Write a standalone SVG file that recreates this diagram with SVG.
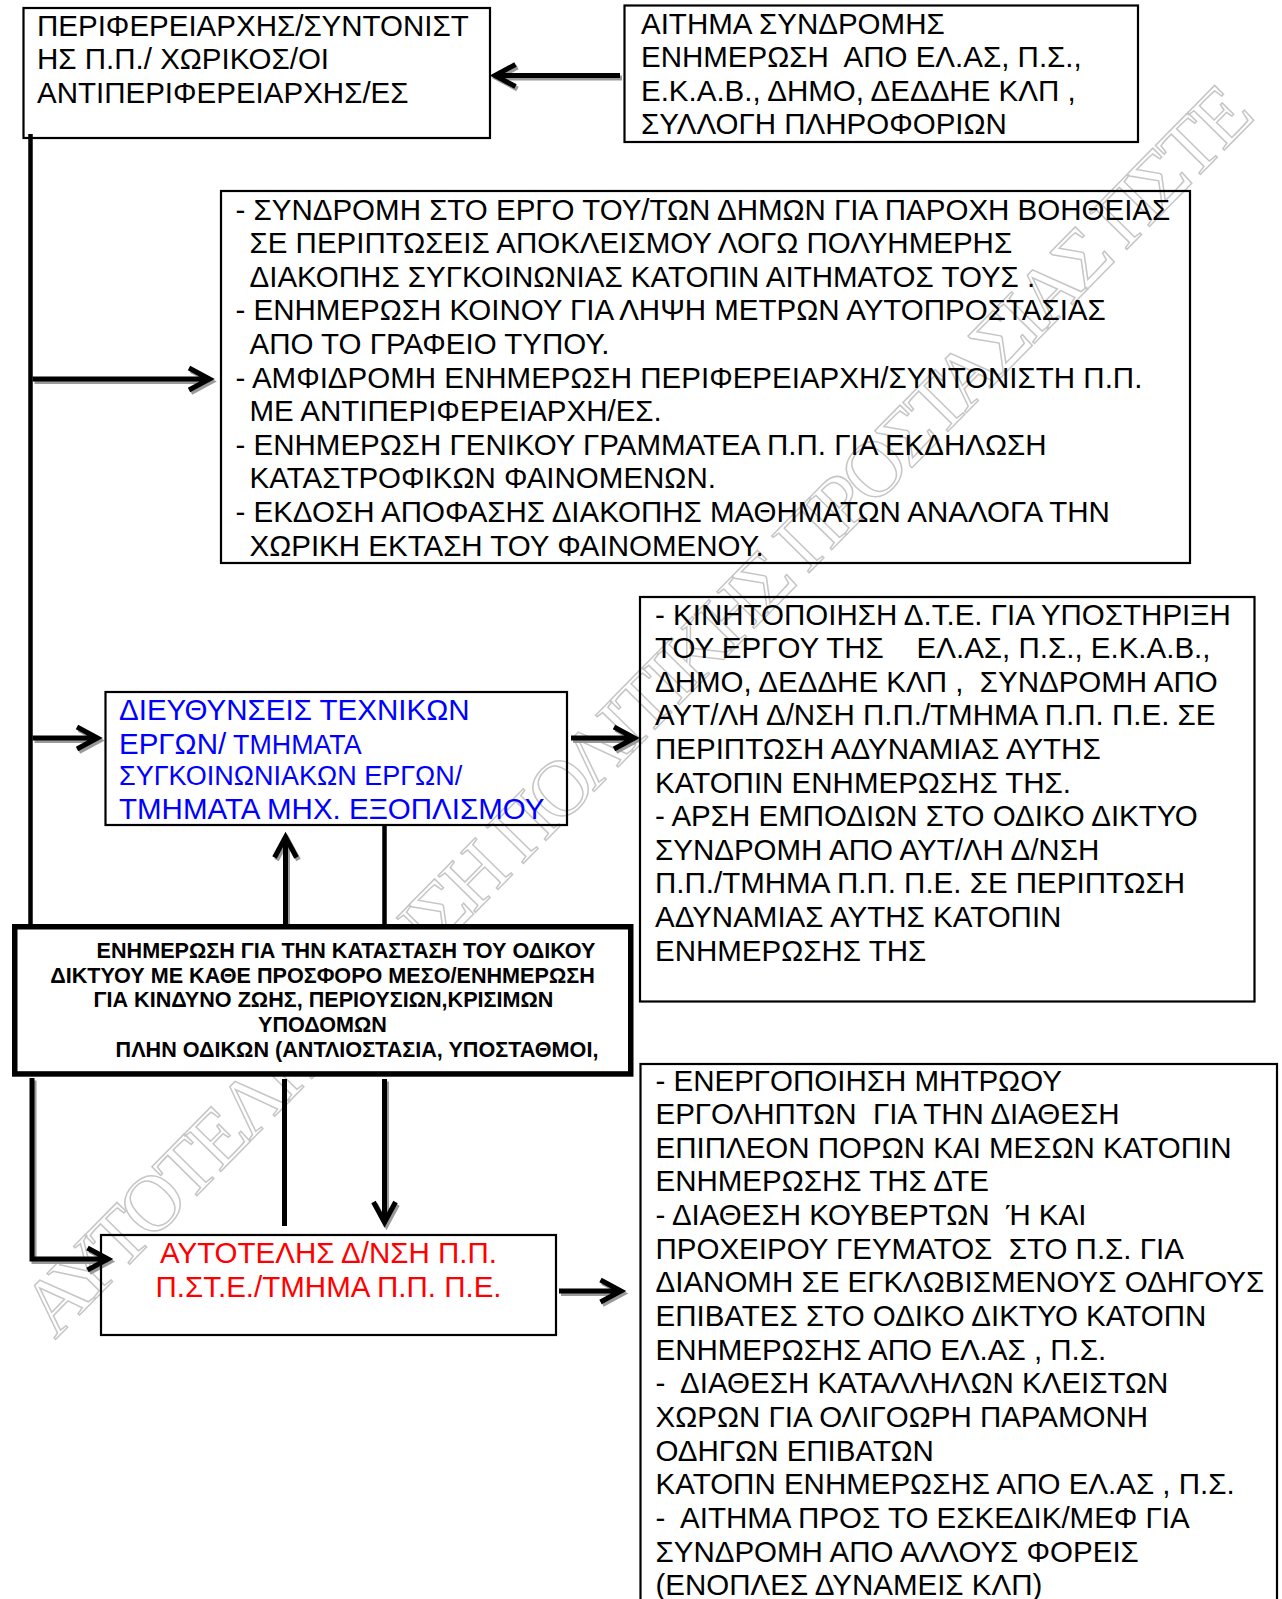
<svg xmlns="http://www.w3.org/2000/svg" xmlns:xlink="http://www.w3.org/1999/xlink" width="1282" height="1599" viewBox="0 0 1282 1599">
<style>
.bx{fill:none;stroke:#000;stroke-width:2.2}
.bxw{fill:#fff;stroke:#000;stroke-width:5.5}
.t{font-family:"Liberation Sans",Arial,sans-serif;font-size:29.5px;fill:#000}
.tb{font-family:"Liberation Sans",Arial,sans-serif;font-size:21.6px;font-weight:bold;fill:#000;text-anchor:middle}
.blue{fill:#0000ff}
.red{fill:#ff0000}
.arrow{fill:none;stroke:#000;stroke-width:5;stroke-linejoin:miter}
.shadow{fill:none;stroke:#9a9a9a;stroke-width:5;stroke-linejoin:miter}
.line{fill:none;stroke:#000}
.wm{font-family:"Liberation Serif","Times New Roman",serif;font-size:80px;fill:none;stroke:#c6c6c6;stroke-width:1.5}
</style>
<defs>
<path id="a1" d="M620 75.5 H495 M515.5 64.5 L495 75.5 L515.5 86.5"/>
<path id="a2" d="M32.5 379 H209.5 M189 368 L209.5 379 L189 390"/>
<path id="a3" d="M32.5 738 H97.5 M77 727 L97.5 738 L77 749"/>
<path id="a4" d="M571 738 H634.5 M614 727 L634.5 738 L614 749"/>
<path id="a5" d="M285.5 924 V837 M274.5 857.5 L285.5 837 L296.5 857.5"/>
<path id="a8" d="M384.5 1079 V1222.5 M373.5 1202 L384.5 1222.5 L395.5 1202"/>
<path id="a9" d="M32 1078 V1259 H108 M87.5 1248 L108 1259 L87.5 1270"/>
<path id="a10" d="M559 1291 H621 M600.5 1280 L621 1291 L600.5 1302"/>
</defs>

<g id="watermark">
<text class="wm" transform="translate(55 1340) rotate(-45.5)" x="0" y="0" textLength="1715" lengthAdjust="spacing">ΑΥΤΟΤΕΛΗΣ Δ/ΝΣΗ ΠΟΛΙΤΙΚΗΣ ΠΡΟΣΤΑΣΙΑΣ ΠΣΤΕ</text>
</g>

<g id="connectors">
<path class="line" stroke-width="4.5" d="M30.5 134 V928"/>
<path class="line" stroke-width="4.5" d="M384.5 825 V925"/>
<path class="line" stroke-width="5" d="M284.5 1079 V1226"/>
<g class="shadow" transform="translate(2 2.5)">
<use xlink:href="#a1"/><use xlink:href="#a2"/><use xlink:href="#a3"/><use xlink:href="#a4"/>
<use xlink:href="#a5"/><use xlink:href="#a8"/><use xlink:href="#a9"/><use xlink:href="#a10"/>
</g>
<g class="arrow">
<use xlink:href="#a1"/><use xlink:href="#a2"/><use xlink:href="#a3"/><use xlink:href="#a4"/>
<use xlink:href="#a5"/><use xlink:href="#a8"/><use xlink:href="#a9"/><use xlink:href="#a10"/>
</g>
</g>

<g id="node-perifereiarxis">
<rect class="bx" x="23.5" y="8" width="466.5" height="130"/>
<text class="t" x="37" y="35.5">ΠΕΡΙΦΕΡΕΙΑΡΧΗΣ/ΣΥΝΤΟΝΙΣΤ</text>
<text class="t" x="37" y="69">ΗΣ Π.Π./ ΧΩΡΙΚΟΣ/ΟΙ</text>
<text class="t" x="37" y="102.5">ΑΝΤΙΠΕΡΙΦΕΡΕΙΑΡΧΗΣ/ΕΣ</text>
</g>

<g id="node-aitima">
<rect class="bx" x="624.5" y="5.5" width="513.5" height="136.5"/>
<text class="t" x="641" y="33.5">ΑΙΤΗΜΑ ΣΥΝΔΡΟΜΗΣ</text>
<text class="t" x="641" y="67">ΕΝΗΜΕΡΩΣΗ&#160; ΑΠΟ ΕΛ.ΑΣ, Π.Σ.,</text>
<text class="t" x="641" y="100.5">Ε.Κ.Α.Β., ΔΗΜΟ, ΔΕΔΔΗΕ ΚΛΠ ,</text>
<text class="t" x="641" y="134">ΣΥΛΛΟΓΗ ΠΛΗΡΟΦΟΡΙΩΝ</text>
</g>

<g id="node-energeies">
<rect class="bx" x="221" y="191" width="969" height="372"/>
<text class="t" x="235.5" y="219.5">- ΣΥΝΔΡΟΜΗ ΣΤΟ ΕΡΓΟ ΤΟΥ/ΤΩΝ ΔΗΜΩΝ ΓΙΑ ΠΑΡΟΧΗ ΒΟΗΘΕΙΑΣ</text>
<text class="t" x="249.5" y="253.1">ΣΕ ΠΕΡΙΠΤΩΣΕΙΣ ΑΠΟΚΛΕΙΣΜΟΥ ΛΟΓΩ ΠΟΛΥΗΜΕΡΗΣ</text>
<text class="t" x="249.5" y="286.7">ΔΙΑΚΟΠΗΣ ΣΥΓΚΟΙΝΩΝΙΑΣ ΚΑΤΟΠΙΝ ΑΙΤΗΜΑΤΟΣ ΤΟΥΣ .</text>
<text class="t" x="235.5" y="320.3">- ΕΝΗΜΕΡΩΣΗ ΚΟΙΝΟΥ ΓΙΑ ΛΗΨΗ ΜΕΤΡΩΝ ΑΥΤΟΠΡΟΣΤΑΣΙΑΣ</text>
<text class="t" x="249.5" y="353.9">ΑΠΟ ΤΟ ΓΡΑΦΕΙΟ ΤΥΠΟΥ.</text>
<text class="t" x="235.5" y="387.5">- ΑΜΦΙΔΡΟΜΗ ΕΝΗΜΕΡΩΣΗ ΠΕΡΙΦΕΡΕΙΑΡΧΗ/ΣΥΝΤΟΝΙΣΤΗ Π.Π.</text>
<text class="t" x="249.5" y="421.1">ΜΕ ΑΝΤΙΠΕΡΙΦΕΡΕΙΑΡΧΗ/ΕΣ.</text>
<text class="t" x="235.5" y="454.7">- ΕΝΗΜΕΡΩΣΗ ΓΕΝΙΚΟΥ ΓΡΑΜΜΑΤΕΑ Π.Π. ΓΙΑ ΕΚΔΗΛΩΣΗ</text>
<text class="t" x="249.5" y="488.3">ΚΑΤΑΣΤΡΟΦΙΚΩΝ ΦΑΙΝΟΜΕΝΩΝ.</text>
<text class="t" x="235.5" y="521.9">- ΕΚΔΟΣΗ ΑΠΟΦΑΣΗΣ ΔΙΑΚΟΠΗΣ ΜΑΘΗΜΑΤΩΝ ΑΝΑΛΟΓΑ ΤΗΝ</text>
<text class="t" x="249.5" y="555.5">ΧΩΡΙΚΗ ΕΚΤΑΣΗ ΤΟΥ ΦΑΙΝΟΜΕΝΟΥ.</text>
</g>

<g id="node-dte">
<rect class="bx" x="105.5" y="692" width="461.5" height="133"/>
<text class="t blue" x="119" y="720">ΔΙΕΥΘΥΝΣΕΙΣ ΤΕΧΝΙΚΩΝ</text>
<text class="t blue" x="119" y="753.5">ΕΡΓΩΝ/<tspan style="font-size:26.8px"> ΤΜΗΜΑΤΑ</tspan></text>
<text class="t blue" x="119" y="785" style="font-size:27px">ΣΥΓΚΟΙΝΩΝΙΑΚΩΝ ΕΡΓΩΝ/</text>
<text class="t blue" x="119" y="818.5">ΤΜΗΜΑΤΑ ΜΗΧ. ΕΞΟΠΛΙΣΜΟΥ</text>
</g>

<g id="node-kinitopoiisi">
<rect class="bx" x="640" y="597" width="614.5" height="404.5"/>
<text class="t" x="655" y="624.5">- ΚΙΝΗΤΟΠΟΙΗΣΗ Δ.Τ.Ε. ΓΙΑ ΥΠΟΣΤΗΡΙΞΗ</text>
<text class="t" x="655" y="658.1">ΤΟΥ ΕΡΓΟΥ ΤΗΣ&#160;&#160;&#160; ΕΛ.ΑΣ, Π.Σ., Ε.Κ.Α.Β.,</text>
<text class="t" x="655" y="691.7">ΔΗΜΟ, ΔΕΔΔΗΕ ΚΛΠ ,&#160; ΣΥΝΔΡΟΜΗ ΑΠΟ</text>
<text class="t" x="655" y="725.3">ΑΥΤ/ΛΗ Δ/ΝΣΗ Π.Π./ΤΜΗΜΑ Π.Π. Π.Ε. ΣΕ</text>
<text class="t" x="655" y="758.9">ΠΕΡΙΠΤΩΣΗ ΑΔΥΝΑΜΙΑΣ ΑΥΤΗΣ</text>
<text class="t" x="655" y="792.5">ΚΑΤΟΠΙΝ ΕΝΗΜΕΡΩΣΗΣ ΤΗΣ.</text>
<text class="t" x="655" y="826.1">- ΑΡΣΗ ΕΜΠΟΔΙΩΝ ΣΤΟ ΟΔΙΚΟ ΔΙΚΤΥΟ</text>
<text class="t" x="655" y="859.7">ΣΥΝΔΡΟΜΗ ΑΠΟ ΑΥΤ/ΛΗ Δ/ΝΣΗ</text>
<text class="t" x="655" y="893.3">Π.Π./ΤΜΗΜΑ Π.Π. Π.Ε. ΣΕ ΠΕΡΙΠΤΩΣΗ</text>
<text class="t" x="655" y="926.9">ΑΔΥΝΑΜΙΑΣ ΑΥΤΗΣ ΚΑΤΟΠΙΝ</text>
<text class="t" x="655" y="960.5">ΕΝΗΜΕΡΩΣΗΣ ΤΗΣ</text>
</g>

<g id="node-enimerosi">
<rect class="bxw" x="14.75" y="926.75" width="616" height="147.2"/>
<text class="tb" x="346" y="958">ΕΝΗΜΕΡΩΣΗ ΓΙΑ ΤΗΝ ΚΑΤΑΣΤΑΣΗ ΤΟΥ ΟΔΙΚΟΥ</text>
<text class="tb" x="322.5" y="982.5">ΔΙΚΤΥΟΥ ΜΕ ΚΑΘΕ ΠΡΟΣΦΟΡΟ ΜΕΣΟ/ΕΝΗΜΕΡΩΣΗ</text>
<text class="tb" x="323.5" y="1007">ΓΙΑ ΚΙΝΔΥΝΟ ΖΩΗΣ, ΠΕΡΙΟΥΣΙΩΝ,ΚΡΙΣΙΜΩΝ</text>
<text class="tb" x="322.5" y="1031.5">ΥΠΟΔΟΜΩΝ</text>
<text class="tb" x="357" y="1056.5">ΠΛΗΝ ΟΔΙΚΩΝ (ΑΝΤΛΙΟΣΤΑΣΙΑ, ΥΠΟΣΤΑΘΜΟΙ,</text>
</g>

<g id="node-autoteli">
<rect class="bx" x="101" y="1235" width="455" height="100"/>
<text class="t red" x="328.5" y="1262.5" text-anchor="middle">ΑΥΤΟΤΕΛΗΣ Δ/ΝΣΗ Π.Π.</text>
<text class="t red" x="328.5" y="1296.5" text-anchor="middle">Π.ΣΤ.Ε./ΤΜΗΜΑ Π.Π. Π.Ε.</text>
</g>

<g id="node-energopoiisi">
<rect class="bx" x="640.5" y="1064" width="636.5" height="560"/>
<text class="t" x="655.5" y="1090.5">- ΕΝΕΡΓΟΠΟΙΗΣΗ ΜΗΤΡΩΟΥ</text>
<text class="t" x="655.5" y="1124.15">ΕΡΓΟΛΗΠΤΩΝ&#160; ΓΙΑ ΤΗΝ ΔΙΑΘΕΣΗ</text>
<text class="t" x="655.5" y="1157.8">ΕΠΙΠΛΕΟΝ ΠΟΡΩΝ ΚΑΙ ΜΕΣΩΝ ΚΑΤΟΠΙΝ</text>
<text class="t" x="655.5" y="1191.45">ΕΝΗΜΕΡΩΣΗΣ ΤΗΣ ΔΤΕ</text>
<text class="t" x="655.5" y="1225.1">- ΔΙΑΘΕΣΗ ΚΟΥΒΕΡΤΩΝ&#160; Ή ΚΑΙ</text>
<text class="t" x="655.5" y="1258.75">ΠΡΟΧΕΙΡΟΥ ΓΕΥΜΑΤΟΣ&#160; ΣΤΟ Π.Σ. ΓΙΑ</text>
<text class="t" x="655.5" y="1292.4">ΔΙΑΝΟΜΗ ΣΕ ΕΓΚΛΩΒΙΣΜΕΝΟΥΣ ΟΔΗΓΟΥΣ</text>
<text class="t" x="655.5" y="1326.05">ΕΠΙΒΑΤΕΣ ΣΤΟ ΟΔΙΚΟ ΔΙΚΤΥΟ ΚΑΤΟΠΝ</text>
<text class="t" x="655.5" y="1359.7">ΕΝΗΜΕΡΩΣΗΣ ΑΠΟ ΕΛ.ΑΣ , Π.Σ.</text>
<text class="t" x="655.5" y="1393.35">-&#160; ΔΙΑΘΕΣΗ ΚΑΤΑΛΛΗΛΩΝ ΚΛΕΙΣΤΩΝ</text>
<text class="t" x="655.5" y="1427">ΧΩΡΩΝ ΓΙΑ ΟΛΙΓΟΩΡΗ ΠΑΡΑΜΟΝΗ</text>
<text class="t" x="655.5" y="1460.65">ΟΔΗΓΩΝ ΕΠΙΒΑΤΩΝ</text>
<text class="t" x="655.5" y="1494.3">ΚΑΤΟΠΝ ΕΝΗΜΕΡΩΣΗΣ ΑΠΟ ΕΛ.ΑΣ , Π.Σ.</text>
<text class="t" x="655.5" y="1527.95">-&#160; ΑΙΤΗΜΑ ΠΡΟΣ ΤΟ ΕΣΚΕΔΙΚ/ΜΕΦ ΓΙΑ</text>
<text class="t" x="655.5" y="1561.6">ΣΥΝΔΡΟΜΗ ΑΠΟ ΑΛΛΟΥΣ ΦΟΡΕΙΣ</text>
<text class="t" x="655.5" y="1595.25">(ΕΝΟΠΛΕΣ ΔΥΝΑΜΕΙΣ ΚΛΠ)</text>
</g>
</svg>
